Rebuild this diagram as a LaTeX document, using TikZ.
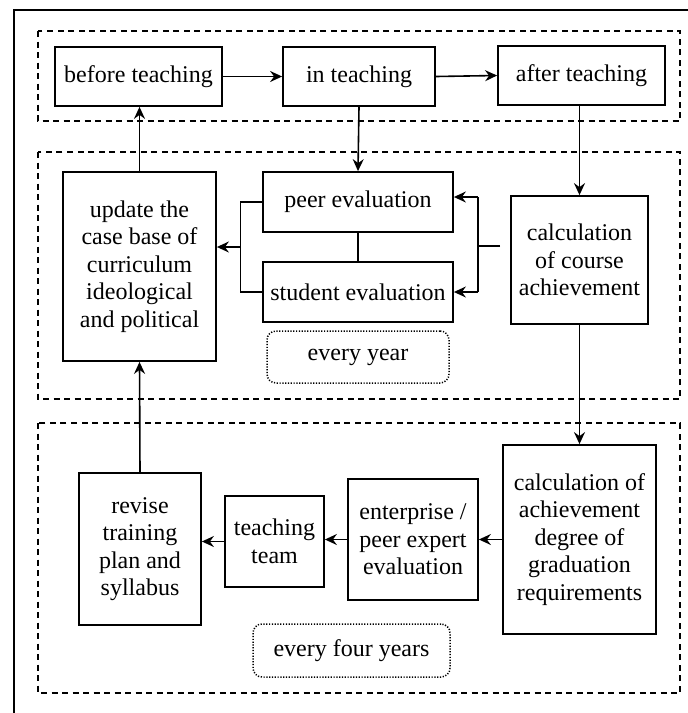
\documentclass[tikz,border=0pt]{standalone}
\usepackage{fontspec}
\setmainfont{Liberation Serif}
\usetikzlibrary{arrows.meta}
\tikzset{
  box/.style={draw, line width=1.8pt, inner sep=0pt, align=center,
    font=\fontsize{24}{27.5}\selectfont},
  grp/.style={draw, line width=1.6pt, dash pattern=on 6pt off 4.5pt},
  tag/.style={draw, line width=1.5pt, dash pattern=on 1.2pt off 1.6pt, rounded corners=9pt,
    inner sep=0pt, font=\fontsize{24}{27.5}\selectfont},
  conn/.style={line width=1.6pt},
  arr/.style={conn, -{Stealth[length=12pt,width=11pt,inset=4pt]}},
}
\begin{document}
\begin{tikzpicture}[x=1pt,y=-1pt]
\useasboundingbox (0,0) rectangle (688,713);
% outer frame (cropped at right and bottom)
\draw[line width=1.6pt] (14,713) -- (14,10) -- (688,10);
% group frames
\draw[grp] (38,31) rectangle (680,121);
\draw[grp] (38,152) rectangle (680,399);
\draw[grp] (38,423) rectangle (680,693);
% top row
\node[box, minimum width=167pt, minimum height=59pt] (before) at (138.5,76.5) {before teaching};
\node[box, minimum width=152pt, minimum height=59pt] (in) at (359,76.5) {in teaching};
\node[box, minimum width=167pt, minimum height=59pt] (after) at (581.5,75.5) {after teaching};
% middle row
\node[box, minimum width=153pt, minimum height=189pt] (update) at (139.5,266.5)
  {update the\\case base of\\curriculum\\ideological\\and political};
\node[box, minimum width=190pt, minimum height=60pt] (peer) at (358,202) {peer evaluation};
\node[box, minimum width=190pt, minimum height=60pt] (student) at (358,292) {student evaluation};
\node[box, minimum width=137pt, minimum height=128pt] (course) at (579.5,260)
  {calculation\\of course\\achievement};
\node[tag, minimum width=182pt, minimum height=52pt] (year) at (358,357) {every year};
% bottom row
\node[box, minimum width=122pt, minimum height=152pt] (revise) at (140,549)
  {revise\\training\\plan and\\syllabus};
\node[box, minimum width=99pt, minimum height=91pt] (team) at (274.5,541.5) {teaching\\team};
\node[box, minimum width=130pt, minimum height=121pt] (ent) at (413,539.5)
  {enterprise /\\peer expert\\evaluation};
\node[box, minimum width=153pt, minimum height=189pt] (grad) at (579.5,539.5)
  {calculation of\\achievement\\degree of\\graduation\\requirements};
\node[tag, minimum width=197pt, minimum height=53pt] (four) at (351.5,650.5) {every four years};
% helper coordinates
\coordinate (lb) at (240.5,247);
\coordinate (rbt) at (478,197);
\coordinate (rbb) at (478,292);
\coordinate (rbm) at (478,246);
\coordinate (cs) at (500,246);
% connectors
\draw[arr] (before.east) -- (in.west);
\draw[arr] (in.east) -- (after.west);
\draw[arr] (in.south) -- (peer.north);
\draw[arr] (course.north |- after.south) -- (course.north);
\draw[arr] (update.north) -- (update.north |- before.south);
\draw[conn] (peer.south) -- (student.north);
\draw[conn] (peer.west) -| (lb) |- (student.west);
\draw[arr] (lb) -- (lb -| update.east);
\draw[conn] (cs) -- (rbm);
\draw[conn] (rbt) -- (rbb);
\draw[arr] (rbt) -- (rbt -| peer.east);
\draw[arr] (rbb) -- (student.east);
\draw[arr] (course.south) -- (course.south |- grad.north);
\draw[arr] (grad.west) -- (ent.east);
\draw[arr] (ent.west) -- (ent.west -| team.east);
\draw[arr] (team.west) -- (team.west -| revise.east);
\draw[arr] (revise.north) -- (update.south);
\end{tikzpicture}
\end{document}
